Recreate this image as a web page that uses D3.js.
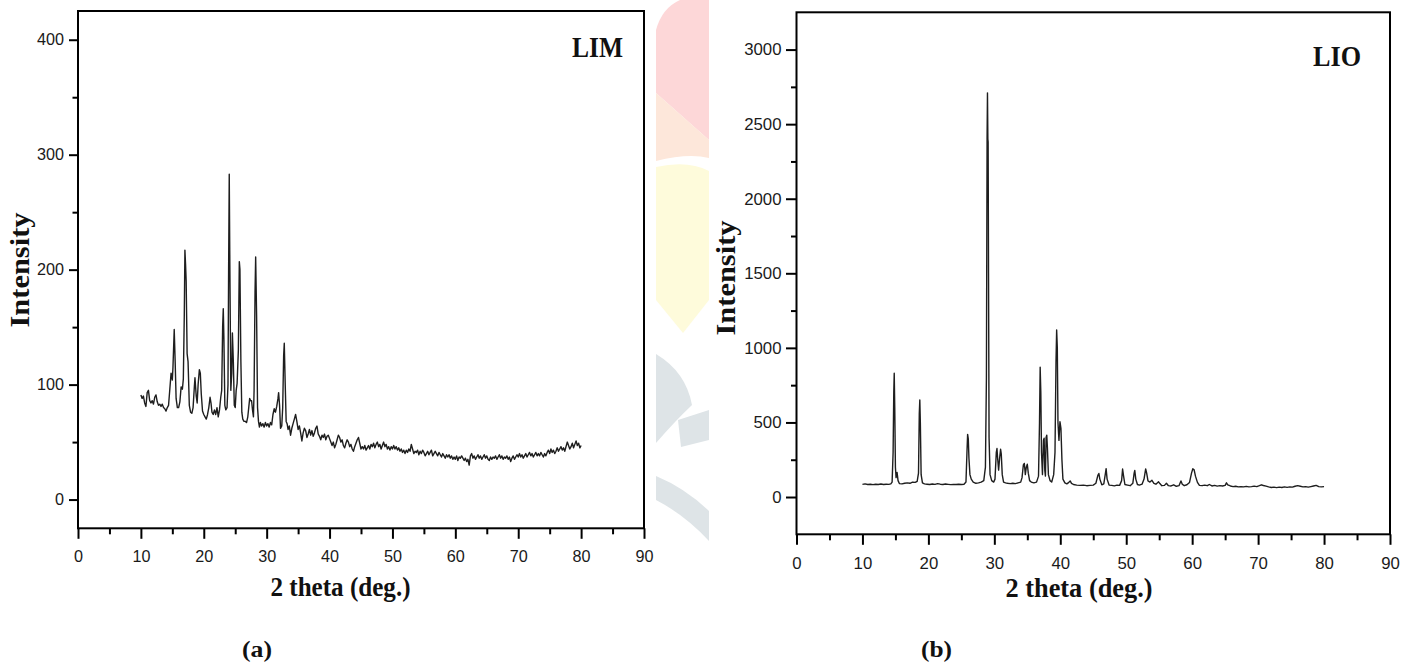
<!DOCTYPE html>
<html>
<head>
<meta charset="utf-8">
<script src="https://cdn.jsdelivr.net/npm/d3@7"></script>
<style>
    html, body { margin: 0; padding: 0; background: #fff; }
    svg { display: block; }
    .ttl { font-family: "Liberation Serif", "Times New Roman", serif; font-weight: bold; fill: #111; }
</style>
</head>
<body>
<svg id="chart" width="1410" height="666"></svg>
<script>
// Tick values
const xTicks = [0, 10, 20, 30, 40, 50, 60, 70, 80, 90];
const xMinor = [5, 15, 25, 35, 45, 55, 65, 75, 85];
const limYTicks = [0, 100, 200, 300, 400];
const limYMinor = [50, 150, 250, 350];
const lioYTicks = [0, 500, 1000, 1500, 2000, 2500, 3000];
const lioYMinor = [250, 750, 1250, 1750, 2250, 2750];

// (a) LIM pattern, [2 theta, intensity]
const limPattern = [
    [10.0,91],[10.2,88],[10.4,90],[10.6,84],[10.8,81],[11.0,93],[11.2,95],[11.4,86],[11.6,84],[11.8,86],
    [12.0,83],[12.2,89],[12.4,91],[12.6,85],[12.8,82],[13.0,83],[13.2,81],[13.4,83],[13.6,80],[13.8,79],
    [14.0,77],[14.2,80],[14.4,82],[14.6,96],[14.8,110],[15.0,104],[15.1,115],[15.3,148],[15.45,120],[15.6,88],
    [15.8,80],[16.0,80],[16.2,85],[16.4,98],[16.6,96],[16.75,105],[16.9,160],[17.0,217],[17.1,205],[17.2,190],
    [17.35,127],[17.5,120],[17.7,82],[17.9,76],[18.1,75],[18.3,80],[18.5,98],[18.6,106],[18.8,90],[18.95,84],
    [19.1,100],[19.3,113],[19.45,110],[19.6,92],[19.8,77],[20.0,74],[20.2,72],[20.4,70],[20.6,74],[20.8,80],
    [21.0,89],[21.15,84],[21.3,76],[21.5,74],[21.7,78],[21.9,74],[22.1,80],[22.3,72],[22.5,78],[22.7,89],
    [22.85,95],[23.0,150],[23.1,166],[23.2,140],[23.35,82],[23.5,78],[23.7,80],[23.85,100],[23.95,200],[24.05,283],
    [24.15,200],[24.3,95],[24.45,110],[24.55,145],[24.7,120],[24.85,82],[25.0,80],[25.15,95],[25.3,101],[25.5,130],
    [25.65,207],[25.75,200],[25.9,120],[26.05,76],[26.2,70],[26.4,68],[26.6,68],[26.8,67],[27.0,72],[27.15,80],
    [27.3,88],[27.45,86],[27.6,86],[27.75,78],[27.9,72],[28.0,95],[28.15,180],[28.25,211],[28.4,160],[28.55,80],
    [28.7,68],[28.85,63],[29.0,67],[29.2,64],[29.4,66],[29.6,63],[29.8,67],[30.0,64],[30.2,66],[30.4,63],
    [30.6,67],[30.8,65],[31.0,74],[31.2,79],[31.4,76],[31.6,81],[31.8,88],[31.9,93],[32.05,82],[32.2,62],
    [32.4,64],[32.55,80],[32.7,125],[32.8,136],[32.95,100],[33.1,68],[33.25,66],[33.4,61],[33.6,64],[33.8,56],
    [34.0,62],[34.2,66],[34.4,70],[34.6,74],[34.8,68],[35.0,61],[35.2,64],[35.4,58],[35.6,51],[35.8,58],
    [36.0,62],[36.2,60],[36.4,54],[36.6,57],[36.8,61],[37.0,56],[37.2,60],[37.4,55],[37.6,58],[37.8,62],
    [38.0,64],[38.2,57],[38.4,55],[38.6,52],[38.8,56],[39.0,54],[39.2,57],[39.4,52],[39.6,55],[39.8,56],
    [40.0,53],[40.2,50],[40.4,47],[40.6,50],[40.8,45],[41.0,48],[41.2,52],[41.4,56],[41.6,54],[41.8,50],
    [42.0,52],[42.2,47],[42.4,45],[42.6,49],[42.8,52],[43.0,50],[43.2,46],[43.4,48],[43.6,44],[43.8,42],
    [44.0,46],[44.2,49],[44.4,52],[44.6,54],[44.8,49],[45.0,44],[45.2,46],[45.4,44],[45.6,47],[45.8,43],
    [46.0,45],[46.2,47],[46.4,44],[46.6,48],[46.8,46],[47.0,49],[47.2,45],[47.4,48],[47.6,50],[47.8,46],
    [48.0,48],[48.2,44],[48.4,47],[48.6,50],[48.8,46],[49.0,48],[49.2,44],[49.4,46],[49.6,43],[49.8,46],
    [50.0,44],[50.2,47],[50.4,44],[50.6,46],[50.8,43],[51.0,45],[51.2,42],[51.4,44],[51.6,41],[51.8,43],
    [52.0,40],[52.2,43],[52.4,41],[52.6,44],[52.8,42],[53.0,48],[53.2,44],[53.4,40],[53.6,42],[53.8,41],
    [54.0,43],[54.2,39],[54.4,42],[54.6,40],[54.8,43],[55.0,41],[55.2,38],[55.4,40],[55.6,42],[55.8,39],
    [56.0,41],[56.2,43],[56.4,38],[56.6,40],[56.8,42],[57.0,40],[57.2,38],[57.4,41],[57.6,39],[57.8,37],
    [58.0,40],[58.2,38],[58.4,36],[58.6,39],[58.8,37],[59.0,39],[59.2,36],[59.4,38],[59.6,35],[59.8,37],
    [60.0,35],[60.2,38],[60.4,34],[60.6,37],[60.8,36],[61.0,38],[61.2,36],[61.4,34],[61.6,36],[61.8,33],
    [62.0,35],[62.2,30],[62.4,38],[62.6,40],[62.8,36],[63.0,38],[63.2,35],[63.4,37],[63.6,39],[63.8,36],
    [64.0,38],[64.2,35],[64.4,37],[64.6,39],[64.8,36],[65.0,38],[65.2,35],[65.4,34],[65.6,37],[65.8,35],
    [66.0,37],[66.2,36],[66.4,38],[66.6,35],[66.8,37],[67.0,39],[67.2,36],[67.4,38],[67.6,35],[67.8,37],
    [68.0,36],[68.2,38],[68.4,35],[68.6,37],[68.8,33],[69.0,36],[69.2,38],[69.4,35],[69.6,37],[69.8,39],
    [70.0,37],[70.2,40],[70.4,37],[70.6,39],[70.8,36],[71.0,38],[71.2,40],[71.4,37],[71.6,39],[71.8,41],
    [72.0,38],[72.2,40],[72.4,37],[72.6,39],[72.8,41],[73.0,38],[73.2,40],[73.4,38],[73.6,41],[73.8,39],
    [74.0,37],[74.2,40],[74.4,38],[74.6,41],[74.8,43],[75.0,40],[75.2,44],[75.4,41],[75.6,43],[75.8,40],
    [76.0,42],[76.2,45],[76.4,42],[76.6,44],[76.8,46],[77.0,43],[77.2,45],[77.4,42],[77.6,46],[77.8,50],
    [78.0,47],[78.2,44],[78.4,46],[78.6,49],[78.8,45],[79.0,48],[79.2,51],[79.4,47],[79.6,49],[79.8,45],
    [80.0,47]
];

// (b) LIO pattern
const lioPattern = [
    [10.0,85],[10.4,88],[10.8,84],[11.2,86],[11.6,83],[12.0,86],[12.4,84],[12.8,87],[13.2,84],[13.6,86],
    [14.0,85],[14.3,88],[14.5,100],[14.65,300],[14.75,700],[14.82,830],[14.9,600],[15.0,200],[15.1,130],[15.25,165],
    [15.4,110],[15.6,90],[16.0,88],[16.4,92],[16.8,95],[17.2,92],[17.6,100],[18.0,98],[18.3,105],[18.5,160],
    [18.62,560],[18.7,650],[18.78,500],[18.9,150],[19.1,95],[19.4,88],[19.8,86],[20.2,84],[20.6,87],[21.0,85],
    [21.4,90],[21.8,86],[22.2,84],[22.6,87],[23.0,85],[23.4,83],[23.8,85],[24.2,84],[24.6,86],[25.0,84],
    [25.4,86],[25.7,100],[25.85,300],[25.95,420],[26.05,390],[26.15,260],[26.3,150],[26.5,120],[26.8,100],[27.2,92],
    [27.6,95],[28.0,100],[28.4,110],[28.65,200],[28.8,800],[28.9,2400],[28.96,2710],[29.02,2400],[29.06,2380],[29.12,1500],
    [29.2,400],[29.35,150],[29.6,110],[29.9,100],[30.1,120],[30.3,300],[30.4,325],[30.5,260],[30.65,180],[30.8,260],
    [30.95,320],[31.05,290],[31.2,150],[31.4,100],[31.7,95],[32.0,92],[32.4,90],[32.8,92],[33.2,90],[33.6,95],
    [34.0,100],[34.2,130],[34.4,215],[34.55,225],[34.7,150],[34.85,200],[35.0,220],[35.15,160],[35.35,110],[35.6,100],
    [36.0,95],[36.4,100],[36.7,140],[36.85,500],[36.95,870],[37.05,700],[37.15,300],[37.3,150],[37.45,380],[37.55,395],
    [37.65,180],[37.75,140],[37.85,400],[37.95,415],[38.05,330],[38.2,150],[38.45,110],[38.7,100],[39.0,150],[39.2,300],
    [39.35,900],[39.45,1120],[39.55,1000],[39.65,500],[39.8,380],[39.95,505],[40.1,460],[40.25,250],[40.4,120],[40.7,95],
    [41.0,88],[41.3,98],[41.5,108],[41.7,92],[42.0,84],[42.5,80],[43.0,78],[43.5,80],[44.0,76],[44.5,78],
    [45.0,80],[45.4,92],[45.7,145],[45.85,158],[46.0,120],[46.3,82],[46.6,88],[46.85,160],[46.95,190],[47.1,120],
    [47.4,80],[47.8,78],[48.2,75],[48.6,80],[49.0,78],[49.3,110],[49.45,188],[49.6,140],[49.8,84],[50.2,80],
    [50.6,76],[51.0,92],[51.2,160],[51.3,178],[51.45,120],[51.7,84],[52.0,80],[52.4,86],[52.7,120],[52.95,188],
    [53.1,160],[53.3,108],[53.6,100],[53.9,112],[54.2,92],[54.5,86],[54.9,102],[55.1,90],[55.4,76],[55.8,78],
    [56.1,92],[56.4,76],[56.8,74],[57.2,82],[57.6,72],[58.0,76],[58.3,108],[58.5,86],[58.8,76],[59.2,82],
    [59.6,98],[59.9,160],[60.1,189],[60.3,182],[60.5,140],[60.8,98],[61.1,78],[61.5,76],[61.9,80],[62.3,76],
    [62.6,84],[63.0,74],[63.4,78],[63.8,73],[64.2,76],[64.6,74],[65.0,78],[65.2,95],[65.4,82],[65.8,74],
    [66.2,70],[66.6,72],[67.0,68],[67.4,70],[67.8,68],[68.2,71],[68.6,68],[69.0,70],[69.4,73],[69.8,70],
    [70.2,76],[70.5,82],[70.8,77],[71.2,73],[71.6,68],[72.0,64],[72.4,66],[72.8,63],[73.2,66],[73.6,64],
    [74.0,68],[74.4,65],[74.8,68],[75.2,66],[75.6,72],[76.0,76],[76.4,72],[76.8,68],[77.2,70],[77.6,66],
    [78.0,70],[78.4,74],[78.8,78],[79.2,70],[79.6,68],[80.0,70]
];

const panels = [
    {
        label: 'LIM', tag: '(a)', data: limPattern, yDomain: [-25, 425],
        yTicks: limYTicks, yMinor: limYMinor,
        left: 78, right: 644, top: 11, bottom: 528.3,
        yTick: 9, xTick: 10.5, yPad: 5, xPad: 12, tickFont: 16.2,
        yTitle: { x: 29, y: 270, len: 115 },
        xTitle: { x: 340.5, y: 596, len: 140 },
        lab: { x: 572, y: 57, len: 51 },
        tagPos: { x: 242, y: 657, len: 30 }
    },
    {
        label: 'LIO', tag: '(b)', data: lioPattern, yDomain: [-250, 3250],
        yTicks: lioYTicks, yMinor: lioYMinor,
        left: 796.5, right: 1390, top: 12.3, bottom: 534.3,
        yTick: 10.5, xTick: 10.5, yPad: 4.5, xPad: 12, tickFont: 16.8,
        yTitle: { x: 735, y: 278, len: 115 },
        xTitle: { x: 1079, y: 597, len: 147 },
        lab: { x: 1313, y: 66, len: 48 },
        tagPos: { x: 921, y: 657, len: 31 }
    }
];

const svg = d3.select('#chart');
svg.append('rect').attr('width', 1410).attr('height', 666).attr('fill', '#fff');

// faint watermark showing between the two panels
const mark = svg.append('g').attr('class', 'watermark');
[
    ['M680,0 L709,0 L709,140 L656,93 L656,30 Q662,8 680,0 Z', '#fdd7d8'],
    ['M656,93 L709,140 L709,158 Q688,153 656,161 Z', '#fde7da'],
    ['M656,167 Q688,160 709,171 L709,300 L683,333 L656,300 Z', '#fefbdb'],
    ['M656,354 Q686,372 692,405 Q676,420 656,443 Z', '#dee4e7'],
    ['M678,420 L709,410 L709,440 L681,447 Z', '#dee4e7'],
    ['M656,476 Q685,488 709,511 L709,541 Q685,515 656,500 Z', '#dee4e7']
].forEach(([d, c]) => mark.append('path').attr('d', d).attr('fill', c));

panels.forEach(p => {
    const x = d3.scaleLinear().domain([0, 90]).range([p.left, p.right]);
    const y = d3.scaleLinear().domain(p.yDomain).range([p.bottom, p.top]);
    const g = svg.append('g');

    g.append('rect')
        .attr('x', p.left).attr('y', p.top)
        .attr('width', p.right - p.left).attr('height', p.bottom - p.top)
        .attr('fill', '#fff');

    const line = d3.line().x(d => x(d[0])).y(d => y(d[1]));
    g.append('path')
        .datum(p.data)
        .attr('d', line)
        .attr('fill', 'none')
        .attr('stroke', '#1e1e1e')
        .attr('stroke-width', 1.4)
        .attr('stroke-linejoin', 'round');

    // axes
    const styleAxis = sel => {
        sel.select('.domain').remove();
        sel.attr('font-family', '"Liberation Sans", Arial, sans-serif')
            .attr('font-size', p.tickFont)
            .attr('color', '#1a1a1a');
        sel.selectAll('line').attr('stroke', '#000').attr('stroke-width', 2);
    };

    g.append('g').attr('transform', `translate(0,${p.bottom})`)
        .call(d3.axisBottom(x).tickValues(xTicks).tickSize(p.xTick).tickPadding(p.xPad).tickFormat(d3.format('d')))
        .call(styleAxis);
    g.append('g').attr('transform', `translate(0,${p.bottom})`)
        .call(d3.axisBottom(x).tickValues(xMinor).tickSize(6).tickFormat(''))
        .call(styleAxis);
    g.append('g').attr('transform', `translate(${p.left},0)`)
        .call(d3.axisLeft(y).tickValues(p.yTicks).tickSize(p.yTick).tickPadding(p.yPad).tickFormat(d3.format('d')))
        .call(styleAxis);
    g.append('g').attr('transform', `translate(${p.left},0)`)
        .call(d3.axisLeft(y).tickValues(p.yMinor).tickSize(5.5).tickFormat(''))
        .call(styleAxis);

    g.append('rect')
        .attr('x', p.left).attr('y', p.top)
        .attr('width', p.right - p.left).attr('height', p.bottom - p.top)
        .attr('fill', 'none').attr('stroke', '#000').attr('stroke-width', 2);

    // titles
    g.append('text').attr('class', 'ttl')
        .attr('transform', `translate(${p.yTitle.x},${p.yTitle.y}) rotate(-90)`)
        .attr('text-anchor', 'middle').attr('font-size', 28)
        .attr('textLength', p.yTitle.len).attr('lengthAdjust', 'spacingAndGlyphs')
        .text('Intensity');
    g.append('text').attr('class', 'ttl')
        .attr('x', p.xTitle.x).attr('y', p.xTitle.y)
        .attr('text-anchor', 'middle').attr('font-size', 28)
        .attr('textLength', p.xTitle.len).attr('lengthAdjust', 'spacingAndGlyphs')
        .text('2 theta (deg.)');
    g.append('text').attr('class', 'ttl')
        .attr('x', p.lab.x).attr('y', p.lab.y).attr('font-size', 29)
        .attr('textLength', p.lab.len).attr('lengthAdjust', 'spacingAndGlyphs')
        .text(p.label);
    g.append('text').attr('class', 'ttl')
        .attr('x', p.tagPos.x).attr('y', p.tagPos.y).attr('font-size', 23)
        .attr('textLength', p.tagPos.len).attr('lengthAdjust', 'spacingAndGlyphs')
        .text(p.tag);
});
</script>
</body>
</html>
